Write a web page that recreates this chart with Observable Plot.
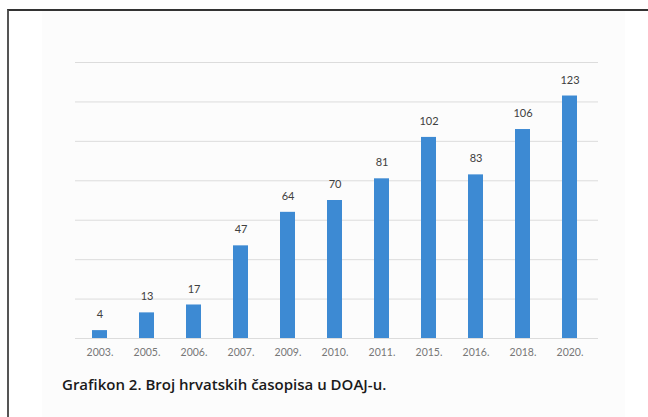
<!DOCTYPE html>
<html>
<head>
<meta charset="utf-8">
<script src="https://cdn.jsdelivr.net/npm/d3@7"></script>
<script src="https://cdn.jsdelivr.net/npm/@observablehq/plot@0.6"></script>
<style>
  html, body { margin: 0; padding: 0; background: #fff; }
  #wrap { position: relative; width: 648px; height: 417px; overflow: hidden; font-family: Lato, "Open Sans", sans-serif; }
  #panel { position: absolute; left: 42px; top: 11px; width: 583px; height: 406px; background: #fcfcfc; }
  #border { position: absolute; left: 7px; top: 9px; width: 660px; height: 430px; border-top: 2px solid #333; border-left: 2px solid #555; }
  #chart { position: absolute; left: 0; top: 0; }
  #caption { position: absolute; left: 62px; top: 373px; line-height: 22px; font-family: "Open Sans", sans-serif; font-size: 15px; font-weight: 600; color: #1a1a1a; white-space: nowrap; }
</style>
</head>
<body>
<div id="wrap">
  <div id="panel"></div>
  <div id="border"></div>
  <div id="chart"></div>
  <div id="caption">Grafikon 2. Broj hrvatskih časopisa u DOAJ-u.</div>
</div>
<script>
const years = ["2003.", "2005.", "2006.", "2007.", "2009.", "2010.", "2011.", "2015.", "2016.", "2018.", "2020."];
const counts = [4, 13, 17, 47, 64, 70, 81, 102, 83, 106, 123];
const yTicks = [0, 20, 40, 60, 80, 100, 120, 140];

const data = years.map((y, i) => ({year: y, count: counts[i]}));

const chart = Plot.plot({
  width: 648,
  height: 365,
  marginLeft: 75,
  marginRight: 54,
  marginTop: 62,
  marginBottom: 27,
  style: {background: "transparent", fontFamily: "Lato, 'Open Sans', sans-serif"},
  x: {domain: years, paddingInner: 0.68, paddingOuter: 0.34, label: null, tickSize: 0, tickPadding: 10},
  y: {domain: [0, 140], ticks: yTicks, axis: null, label: null},
  marks: [
    Plot.ruleY(yTicks, {stroke: "#dcdcdc", strokeWidth: 1, insetRight: -4}),
    Plot.barY(data, {x: "year", y: "count", fill: "#3d8ad3"}),
    Plot.text(data, {x: "year", y: "count", text: d => String(d.count), dy: -16, fill: "#404040", fontSize: 11}),
    Plot.axisX({tickSize: 0, tickPadding: 10, fontSize: 10.5, color: "#777", label: null})
  ]
});
document.getElementById("chart").appendChild(chart);
</script>
</body>
</html>
